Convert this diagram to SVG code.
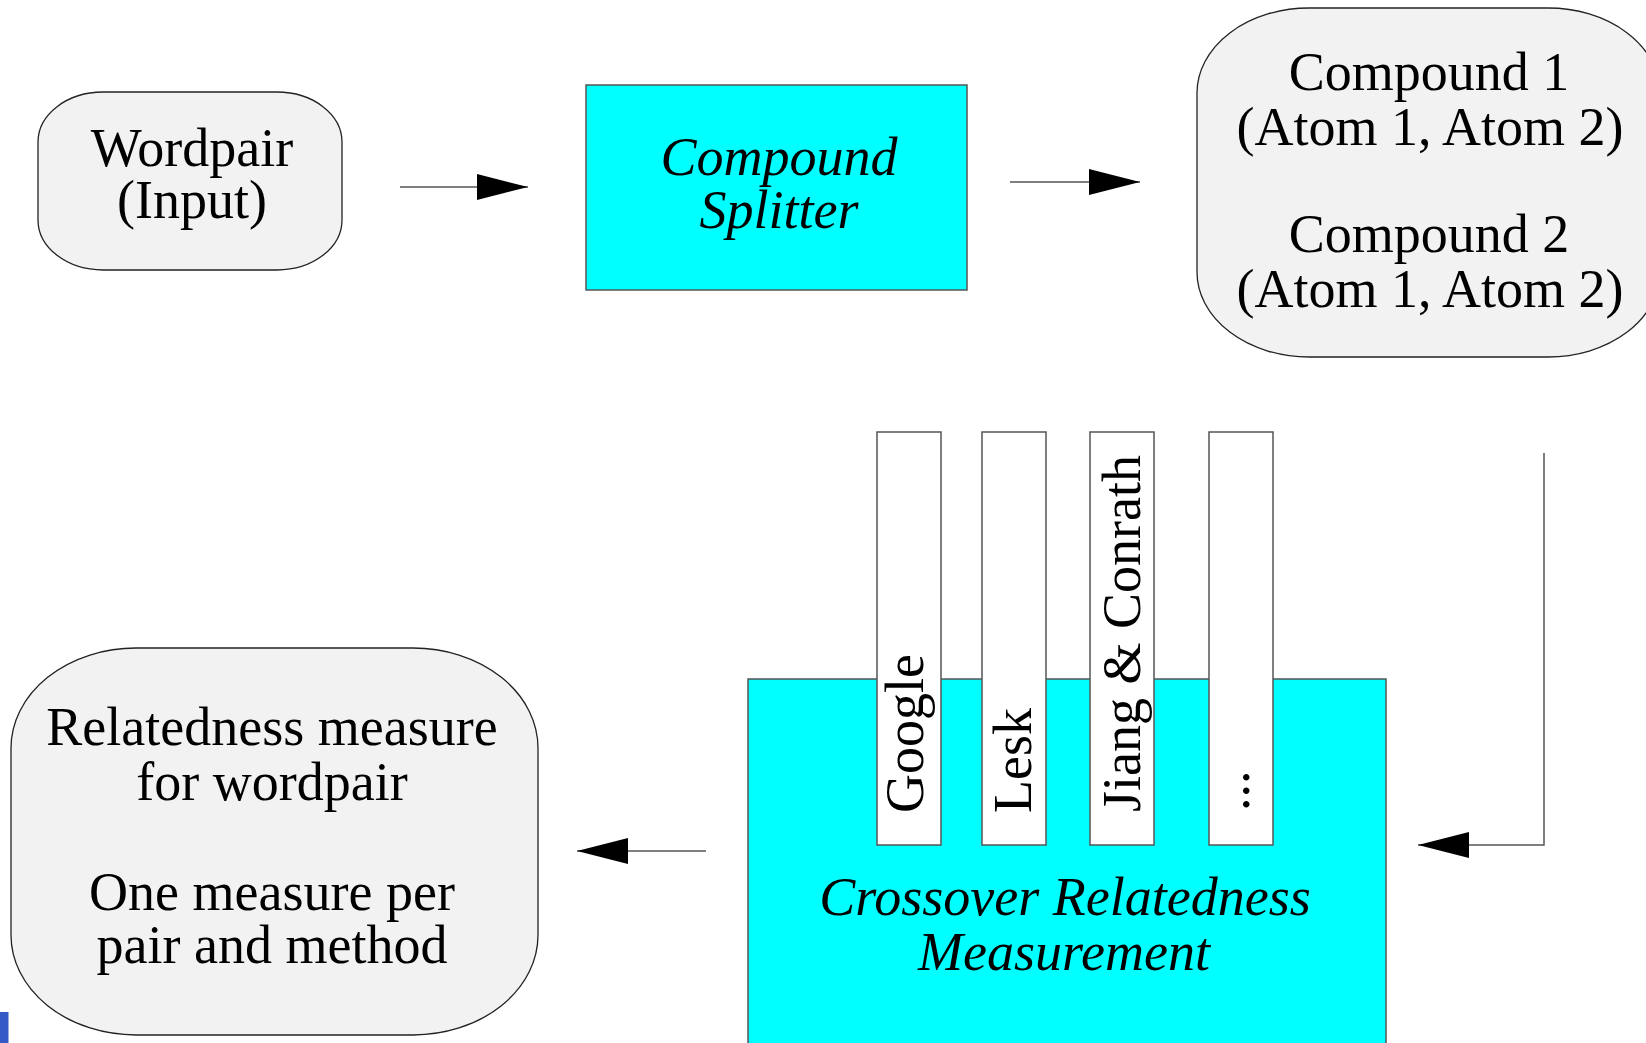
<svg xmlns="http://www.w3.org/2000/svg" width="1646" height="1043" viewBox="0 0 1646 1043">
<style>
text { font-family: "Liberation Serif", "Times New Roman", serif; font-size: 54px; fill: #000; }
.c { text-anchor: middle; }
.it { font-style: italic; }
.round { fill: #f2f2f2; stroke: #222; stroke-width: 1.3; }
.cyan { fill: #00ffff; stroke: #555; stroke-width: 1.5; }
.col { fill: #ffffff; stroke: #555; stroke-width: 1.5; }
.conn { fill: none; stroke: #555; stroke-width: 1.5; }
</style>
<defs>
<marker id="ah" markerUnits="userSpaceOnUse" markerWidth="52" markerHeight="28" refX="51" refY="14" orient="auto">
<path d="M0,1 L51,14 L0,27 z" fill="#000"/>
</marker>
</defs>
<rect width="1646" height="1043" fill="#ffffff"/>

<g id="wordpair">
<rect class="round" x="38" y="92" width="304" height="178" rx="65" ry="50"/>
<text class="c" x="192" y="166">Wordpair</text>
<text class="c" x="192" y="218">(Input)</text>
</g>

<g id="splitter">
<rect class="cyan" x="586" y="85" width="381" height="205"/>
<text class="c it" x="779" y="175">Compound</text>
<text class="c it" x="779" y="228">Splitter</text>
</g>

<g id="compounds">
<rect class="round" x="1197" y="8" width="463" height="349" rx="112" ry="85"/>
<text class="c" x="1429" y="90">Compound 1</text>
<text class="c" x="1430" y="145">(Atom 1, Atom 2)</text>
<text class="c" x="1429" y="252">Compound 2</text>
<text class="c" x="1430" y="307">(Atom 1, Atom 2)</text>
</g>

<g id="crossover">
<rect class="cyan" x="748" y="679" width="638" height="380"/>
<text class="c it" x="1065" y="915">Crossover Relatedness</text>
<text class="c it" x="1064" y="970">Measurement</text>
</g>

<g id="google">
<rect class="col" x="877" y="432" width="64" height="413"/>
<text transform="translate(923,813) rotate(-90)">Google</text>
</g>
<g id="lesk">
<rect class="col" x="982" y="432" width="64" height="413"/>
<text transform="translate(1031,813) rotate(-90)">Lesk</text>
</g>
<g id="jiang">
<rect class="col" x="1090" y="432" width="64" height="413"/>
<text transform="translate(1140,812) rotate(-90)">Jiang &amp; Conrath</text>
</g>
<g id="more">
<rect class="col" x="1209" y="432" width="64" height="413"/>
<text transform="translate(1249,811) rotate(-90)">...</text>
</g>

<g id="result">
<rect class="round" x="11" y="648" width="527" height="387" rx="125" ry="100"/>
<text class="c" x="272" y="745">Relatedness measure</text>
<text class="c" x="272" y="800">for wordpair</text>
<text class="c" x="272" y="910">One measure per</text>
<text class="c" x="272" y="963">pair and method</text>
</g>

<rect x="0" y="1012" width="8.5" height="31" fill="#3559c6"/>

<g id="connectors">
<line class="conn" x1="400" y1="187" x2="528" y2="187" marker-end="url(#ah)"/>
<line class="conn" x1="1010" y1="182" x2="1140" y2="182" marker-end="url(#ah)"/>
<polyline class="conn" points="1544,453 1544,845 1418,845" marker-end="url(#ah)"/>
<line class="conn" x1="706" y1="851" x2="577" y2="851" marker-end="url(#ah)"/>
</g>
</svg>
